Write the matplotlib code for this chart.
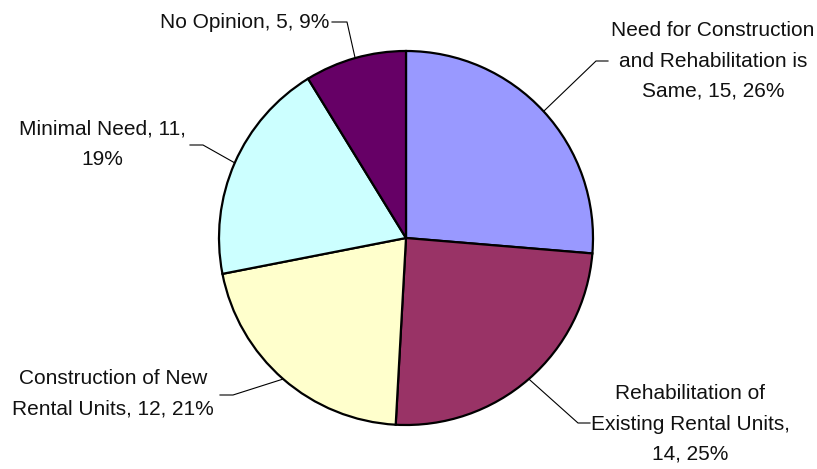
import numpy as np
import matplotlib.pyplot as plt

categories = ["Need for Construction and Rehabilitation is Same",
              "Rehabilitation of Existing Rental Units",
              "Construction of New Rental Units",
              "Minimal Need",
              "No Opinion"]
values = [15, 14, 12, 11, 5]
percents = [26, 25, 21, 19, 9]
# label text as wrapped in the original
label_texts = ["Need for Construction\nand Rehabilitation is\nSame, 15, 26%",
               "Rehabilitation of\nExisting Rental Units,\n14, 25%",
               "Construction of New\nRental Units, 12, 21%",
               "Minimal Need, 11,\n19%",
               "No Opinion, 5, 9%"]
colors = ["#9999FF", "#993366", "#FFFFCC", "#CCFFFF", "#660066"]

W, H = 817, 469
fig = plt.figure(figsize=(W / 100, H / 100), dpi=100)
ax = fig.add_axes([0, 0, 1, 1])

cx, cy, r = 406, H - 238, 187
wedges, _ = ax.pie(values, colors=colors, startangle=90, counterclock=False,
                   center=(cx, cy), radius=r, frame=True,
                   wedgeprops=dict(edgecolor="black", linewidth=1.6))
ax.set_xlim(0, W)
ax.set_ylim(0, H)
ax.set_aspect("equal")
ax.axis("off")

# label layout (pixel coords from top): text centre, alignment, elbow points
layout = [
    dict(xy=(713, 61), ha="center", elbow=[(608, 61), (596, 61)]),
    dict(xy=(690, 424), ha="center", elbow=[(590, 423), (578, 423)]),
    dict(xy=(113, 394), ha="center", elbow=[(220, 395), (233, 395)]),
    dict(xy=(102, 144), ha="center", elbow=[(190, 145), (203, 145)]),
    dict(xy=(329, 22), ha="right", elbow=[(332, 22), (347, 22)]),
]

for w, txt, lay in zip(wedges, label_texts, layout):
    mid = np.deg2rad((w.theta1 + w.theta2) / 2)
    ex, ey = cx + r * np.cos(mid), cy + r * np.sin(mid)
    pts = [(x, H - y) for x, y in lay["elbow"]] + [(ex, ey)]
    ax.plot([p[0] for p in pts], [p[1] for p in pts], color="black", linewidth=0.8)
    ax.text(lay["xy"][0], H - lay["xy"][1], txt, ha=lay["ha"], va="center",
            fontsize=15, family="Liberation Sans", linespacing=1.75, color="#111111")

fig.savefig("out.png", dpi=100)
